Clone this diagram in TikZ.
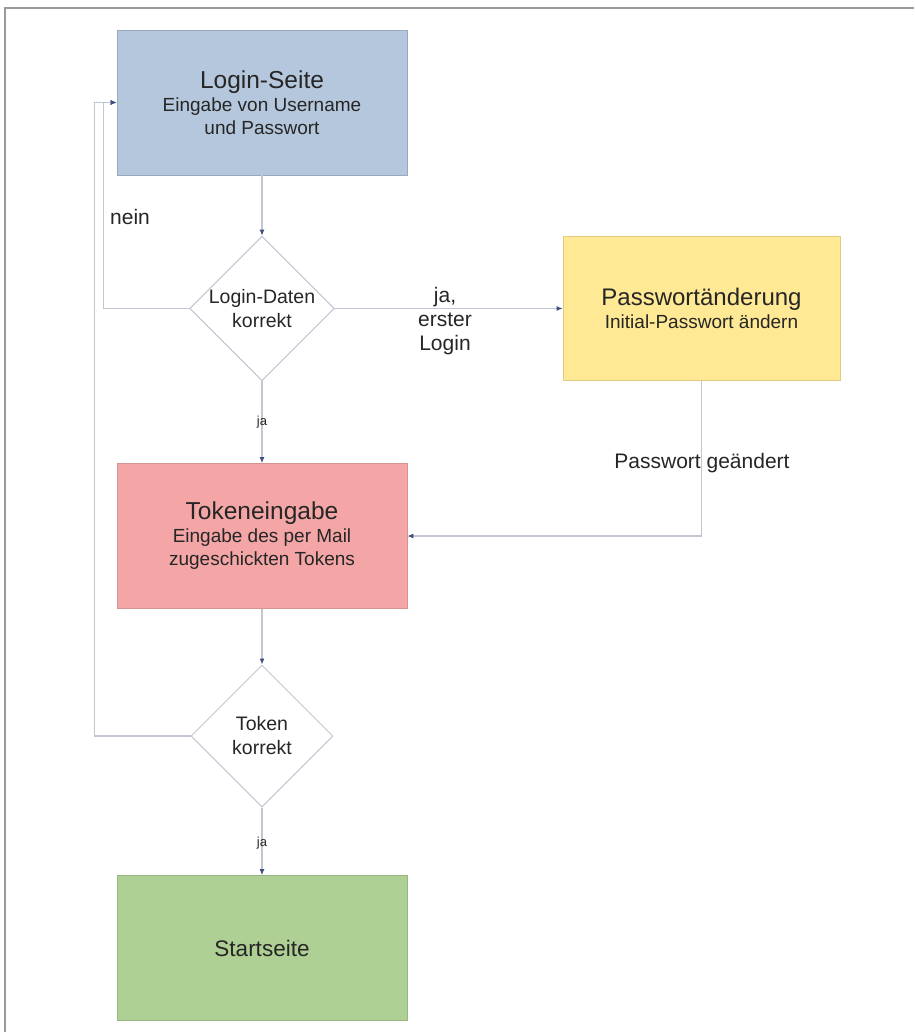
\documentclass[tikz,border=0pt]{standalone}
\usepackage{fontspec}
\setmainfont{Liberation Sans}
\usetikzlibrary{shapes.geometric,arrows.meta}
\definecolor{bluebox}{HTML}{B4C7DC}
\definecolor{yellowbox}{HTML}{FFE994}
\definecolor{redbox}{HTML}{F4A6A6}
\definecolor{greenbox}{HTML}{AFD095}
\definecolor{linec}{HTML}{C2C6D0}
\definecolor{tipc}{HTML}{3E4C80}
\definecolor{framec}{HTML}{9A9A9A}
\definecolor{txt}{HTML}{262626}
\tikzset{
  box/.style={rectangle, minimum width=290pt, minimum height=145pt, inner sep=0pt, align=center, text=txt, font=\fontsize{19}{23}\selectfont},
  dia/.style={diamond, draw=linec, line width=1pt, fill=white, minimum width=142pt, minimum height=142pt, inner sep=0pt, align=center, text=txt, font=\fontsize{19.5}{24}\selectfont},
  conn/.style={draw=linec, line width=1.2pt},
  arr/.style={conn, -{Latex[length=6pt,width=5pt,color=tipc]}},
  lbl/.style={text=txt, font=\fontsize{21}{24}\selectfont, align=center, inner sep=0pt},
  small/.style={text=txt, font=\fontsize{13}{15}\selectfont, inner sep=0pt},
}
\begin{document}
\begin{tikzpicture}[x=1pt,y=-1pt]
\useasboundingbox[fill=white] (0,0) rectangle (914,1032);
\draw[framec, line width=1.5pt] (5,1032) -- (5,8) -- (914,8);

\node[box, fill=bluebox, draw=bluebox!85!black, line width=0.6pt] (login) at (262,102.5)
  {{\fontsize{24.5}{24}\selectfont Login-Seite}\\Eingabe von Username\\und Passwort};
\node[dia] (d1) at (262,308.5) {Login-Daten\\korrekt};
\node[box, minimum width=277pt, minimum height=144pt, fill=yellowbox, draw=yellowbox!88!black, line width=0.6pt] (pw) at (701.5,308.5)
  {{\fontsize{24}{24}\selectfont Passwortänderung}\\Initial-Passwort ändern};
\node[box, fill=redbox, draw=redbox!88!black, line width=0.6pt] (token) at (262,536)
  {{\fontsize{24.5}{24}\selectfont Tokeneingabe}\\Eingabe des per Mail\\zugeschickten Tokens};
\node[dia] (d2) at (262,736) {Token\\korrekt};
\node[box, fill=greenbox, draw=greenbox!88!black, line width=0.6pt, font=\fontsize{22.5}{24}\selectfont] (start) at (262,948) {Startseite};

\draw[arr] (login.south) -- (d1.north);
\draw[arr] (d1.south) -- (token.north);
\draw[arr] (token.south) -- (d2.north);
\draw[arr] (d2.south) -- (start.north);
\draw[arr] (d1.east) -- (pw.west);
\draw[arr] (pw.south) |- (token.east);
\draw[arr] (d1.west) -- ++(-86,0) |- (login.west);
\draw[arr] (d2.west) -- ++(-96,0) |- (login.west);

\node[lbl] (lnein) at (130,217) {nein};
\node[lbl] (lerst) at (445,321) {ja,\\erster\\Login};
\node[lbl] (lgeaend) at (702,463) {Passwort geändert};
\node[small] (lja1) at (262,422) {ja};
\node[small] (lja2) at (262,843) {ja};
\end{tikzpicture}
\end{document}
